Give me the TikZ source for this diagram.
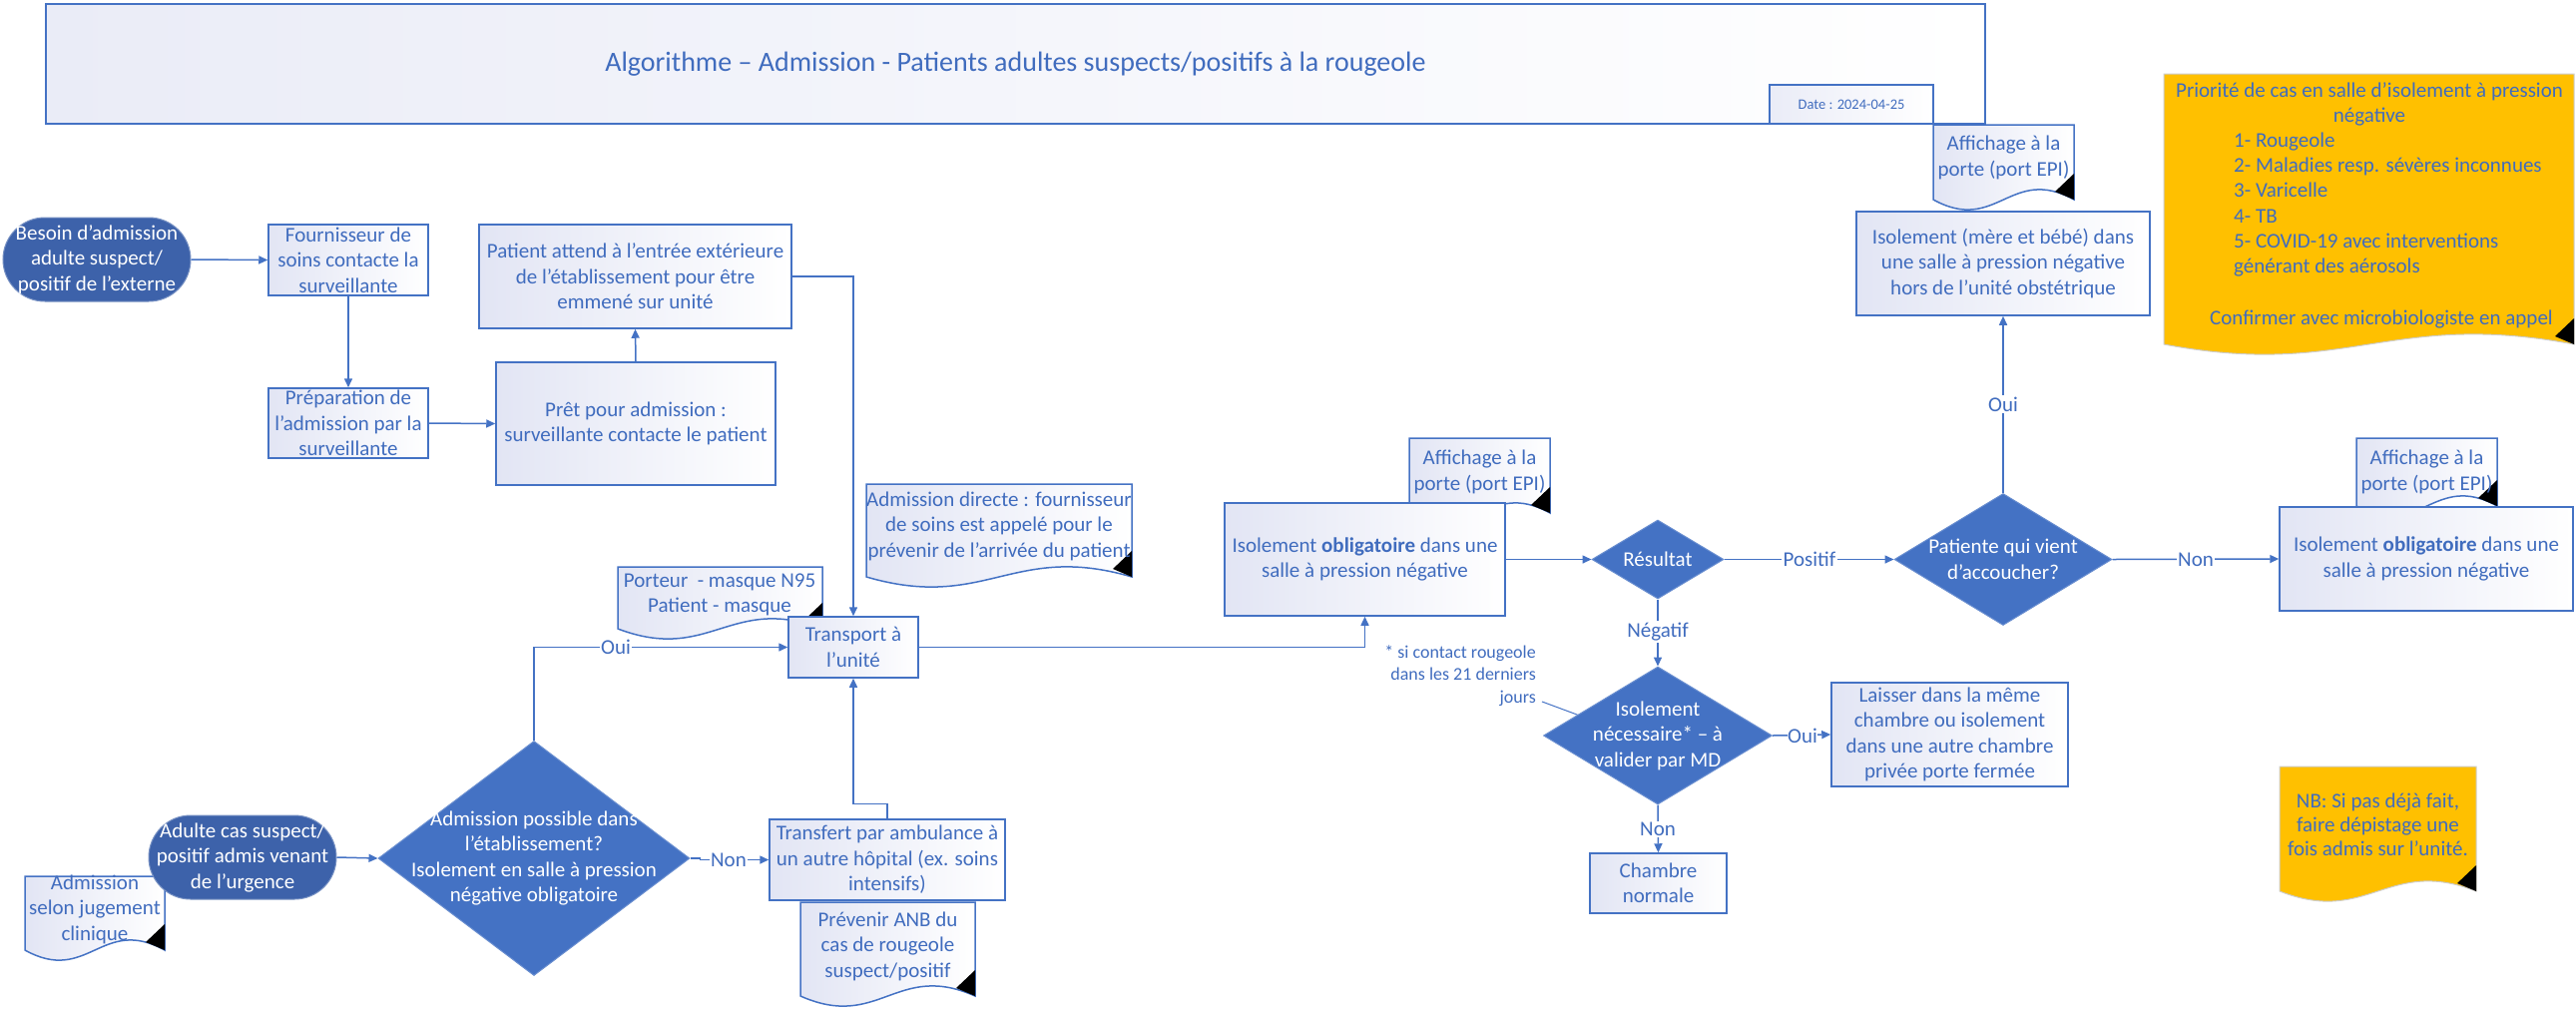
\documentclass[tikz,border=0pt]{standalone}
\usepackage{fontspec}
\setmainfont{Carlito}
\usetikzlibrary{arrows.meta,shapes.geometric,calc}
\definecolor{bordblue}{RGB}{68,114,196}
\definecolor{txtblue}{RGB}{64,108,190}
\definecolor{diafill}{RGB}{68,114,196}
\definecolor{termfill}{RGB}{61,98,170}
\definecolor{gradc}{RGB}{226,229,244}
\definecolor{titlegrad}{RGB}{234,236,247}
\definecolor{yellowc}{RGB}{255,192,0}
\definecolor{ybord}{RGB}{205,205,205}

\newcommand\myboxfont{\fontsize{21}{25.5}\selectfont}
\newcommand\mytitlefont{\fontsize{28}{34}\selectfont}
\newcommand\mydatefont{\fontsize{14.5}{17}\selectfont}
\newcommand\mynotefont{\fontsize{18}{22.5}\selectfont}

% document shape: x1, y1 (top), x2, yb (side bottom), style
\newcommand\docshape[5]{%
  \path[#5] (#1,#2) -- (#3,#2) -- (#3,#4)
    .. controls ({#1+0.55*(#3-#1)},{#4-35}) and ({#1+0.45*(#3-#1)},{#4+35}) .. (#1,#4) -- cycle;
  \fill[black] (#3,{#4-26}) -- (#3,#4) -- ({#3-19},{#4-8}) -- cycle;}

\begin{document}
\begin{tikzpicture}[x=1pt,y=-1pt,
  box/.style={draw=bordblue, line width=1.5pt, left color=gradc, right color=white,
    text=txtblue, font=\myboxfont, align=center, inner sep=0pt},
  term/.style={rectangle, rounded corners=42pt, fill=termfill, draw=termfill!70!white,
    line width=1pt, text=white, font=\myboxfont, align=center, inner sep=0pt},
  dia/.style={diamond, fill=diafill, draw=diafill!80!white, line width=1pt, inner sep=0pt},
  diatext/.style={text=white, font=\myboxfont, align=center},
  doctext/.style={text=txtblue, font=\myboxfont, align=center, inner sep=0pt},
  docst/.style={draw=bordblue, line width=1.5pt, left color=gradc, right color=white},
  ydocst/.style={draw=ybord, line width=1pt, fill=yellowc},
  conn/.style={draw=bordblue, line width=1.5pt},
  arr/.style={conn, -{Triangle[length=9pt,width=8pt]}},
  lbl/.style={fill=white, inner sep=1.5pt, text=txtblue, font=\myboxfont},
]
\useasboundingbox (0,0) rectangle (2581,1013);

% ---- title ----
\node[box, left color=titlegrad, font=\mytitlefont, minimum width=1943pt, minimum height=120pt] (title) at (1017.5,64)
  {Algorithme – Admission - Patients adultes suspects/positifs à la rougeole};
\node[box, left color=titlegrad, font=\mydatefont, minimum width=164pt, minimum height=39pt] (date) at (1855,104.5)
  {Date : 2024-04-25};

% ---- documents ----
\docshape{868}{485}{1134}{578}{docst}
\node[doctext] (dirtxt) at (1001,527) {Admission directe : fournisseur\\de soins est appelé pour le\\prévenir de l’arrivée du patient};

\docshape{619}{568}{824}{630}{docst}
\node[doctext] (porttxt) at (721,596) {Porteur\ \ - masque N95\\Patient - masque};

\docshape{25}{878}{165}{952}{docst}
\node[doctext] (jugtxt) at (95,911) {Admission\\selon jugement\\clinique};

\docshape{802}{904}{977}{998}{docst}
\node[doctext] (prevtxt) at (889.5,948) {Prévenir ANB du\\cas de rougeole\\suspect/positif};

\docshape{1412}{439}{1553}{514}{docst}
\node[doctext] (aff1txt) at (1482.5,473) {Affichage à la\\porte (port EPI)};

\docshape{1937}{125}{2078}{200}{docst}
\node[doctext] (aff2txt) at (2007.5,158) {Affichage à la\\porte (port EPI)};

\docshape{2361}{439}{2502}{507}{docst}
\node[doctext] (aff3txt) at (2431.5,473) {Affichage à la\\porte (port EPI)};

\docshape{2168}{74}{2579}{345}{ydocst}
\node[doctext, font=\fontsize{21}{25.2}\selectfont] (prioA) at (2374,104.5)
  {Priorité de cas en salle d’isolement à pression\\négative};
\node[doctext, font=\fontsize{21}{25.2}\selectfont, align=left, anchor=west] (prioB) at (2238,205)
  {1- Rougeole\\2- Maladies resp. sévères inconnues\\3- Varicelle\\4- TB\\5- COVID-19 avec interventions\\générant des aérosols};
\node[doctext] (prioC) at (2386,320) {Confirmer avec microbiologiste en appel};

\docshape{2284}{768}{2481}{893}{ydocst}
\node[doctext, font=\fontsize{21}{24}\selectfont] (nbtxt) at (2382.5,826)
  {NB: Si pas déjà fait,\\faire dépistage une\\fois admis sur l’unité.};

% ---- process boxes ----
\node[term, minimum width=188pt, minimum height=84pt] (besoin) at (97,260)
  {Besoin d’admission\\adulte suspect/\\positif de l’externe};
\node[box, minimum width=160pt, minimum height=71pt] (fourn) at (349,260.5)
  {Fournisseur de\\soins contacte la\\surveillante};
\node[box, minimum width=160pt, minimum height=70pt] (prep) at (349,424)
  {Préparation de\\l’admission par la\\surveillante};
\node[box, minimum width=280pt, minimum height=123pt] (pret) at (637,424.5)
  {Prêt pour admission :\\surveillante contacte le patient};
\node[box, minimum width=313pt, minimum height=104pt] (attend) at (636.5,277)
  {Patient attend à l’entrée extérieure\\de l’établissement pour être\\emmené sur unité};
\node[box, minimum width=130pt, minimum height=61pt] (transport) at (855,648.5)
  {Transport à\\l’unité};
\node[dia, minimum width=312pt, minimum height=235pt,
  label={[diatext]center:{Admission possible dans\\l’établissement?\\Isolement en salle à pression\\négative obligatoire}}] (adm) at (535,860) {};
\node[term, minimum width=188pt, minimum height=84pt] (adulte) at (243,859)
  {Adulte cas suspect/\\positif admis venant\\de l’urgence};
\node[box, minimum width=236pt, minimum height=81pt] (transfert) at (889,861.5)
  {Transfert par ambulance à\\un autre hôpital (ex. soins\\intensifs)};
\node[box, minimum width=281pt, minimum height=113pt] (iso1) at (1367.5,560.5)
  {Isolement \textbf{obligatoire} dans une\\salle à pression négative};
\node[dia, minimum width=132pt, minimum height=79pt,
  label={[diatext]center:Résultat}] (res) at (1661,560.5) {};
\node[dia, minimum width=218pt, minimum height=132pt,
  label={[diatext]center:{Patiente qui vient\\d’accoucher?}}] (pat) at (2007,560.5) {};
\node[box, minimum width=294pt, minimum height=104pt] (iso3) at (2431,560)
  {Isolement \textbf{obligatoire} dans une\\salle à pression négative};
\node[box, minimum width=294pt, minimum height=104pt] (mere) at (2007,264)
  {Isolement (mère et bébé) dans\\une salle à pression négative\\hors de l’unité obstétrique};
\node[dia, minimum width=229pt, minimum height=138pt,
  label={[diatext]center:{Isolement\\nécessaire* – à\\valider par MD}}] (isonec) at (1661,737) {};
\node[box, minimum width=237pt, minimum height=104pt] (laisser) at (1953.5,736)
  {Laisser dans la même\\chambre ou isolement\\dans une autre chambre\\privée porte fermée};
\node[box, minimum width=137pt, minimum height=60pt] (chambre) at (1661.5,885)
  {Chambre\\normale};

\node[text=txtblue, font=\mynotefont, align=right, anchor=east, inner sep=0pt] (note) at (1539,677)
  {* si contact rougeole\\dans les 21 derniers\\jours};

% ---- connectors ----
\draw[arr] (besoin.east) -- (fourn.west);
\draw[arr] (fourn.south) -- (prep.north);
\draw[arr] (prep.east) -- (pret.west);
\draw[arr] (pret.north) -- (attend.south);
\draw[arr] (attend.east) -| (transport.north);
\draw[arr] (adm.north) |- (transport.west);
\draw[arr] (adulte.east) -- (adm.west);
\draw[arr] (adm.east) -- ++(10,0) |- (transfert.west);
\draw[arr] (transfert.north) -- ++(0,-15) -| (transport.south);
\draw[arr] (transport.east) -| (iso1.south);
\draw[arr] (iso1.east) -- (res.west);
\draw[arr] (res.east) -- (pat.west);
\draw[arr] (pat.east) -- (iso3.west);
\draw[arr] (pat.north) -- (mere.south);
\draw[arr] (res.south) -- (isonec.north);
\draw[arr] (isonec.east) -- (laisser.west);
\draw[arr] (isonec.south) -- (chambre.north);
\coordinate (noteA) at (1545,703);
\draw[conn, line width=1pt] (noteA) -- ($(isonec.west)!0.3!(isonec.north)$);

% ---- connector labels ----
\node[lbl] (lOui1) at (617,648.5) {Oui};
\node[lbl] (lNon1) at (730,861.5) {Non};
\node[lbl] (lPos) at (1813,560.5) {Positif};
\node[lbl] (lNon2) at (2200,560.5) {Non};
\node[lbl] (lOui2) at (2007,405) {Oui};
\node[lbl] (lNeg) at (1661,633) {Négatif};
\node[lbl, inner sep=0.5pt] (lOui3) at (1806,737) {Oui};
\node[lbl] (lNon3) at (1661,831) {Non};
\end{tikzpicture}
\end{document}
